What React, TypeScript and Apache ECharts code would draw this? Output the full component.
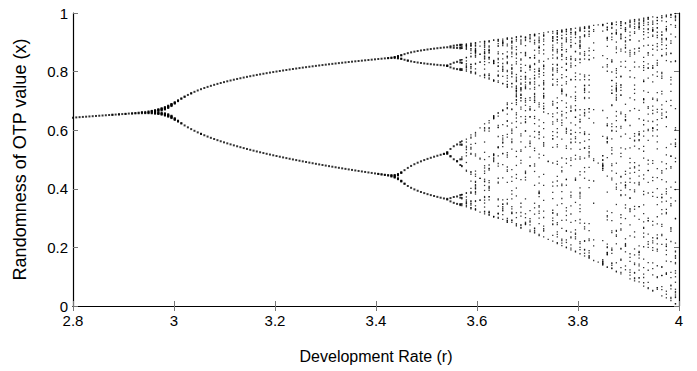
import React, { useEffect, useRef } from "react";
import * as echarts from "echarts";

// Axis ranges and tick labels
const xTicks = [2.8, 3, 3.2, 3.4, 3.6, 3.8, 4];
const yTicks = [0, 0.2, 0.4, 0.6, 0.8, 1];
const xTitle = "Development Rate (r)";
const yTitle = "Randomness of OTP value (x)";

// Sampling of the development rate r (column spacing)
const periodicStart = 2.8;
const periodicStep = 0.0065;
const chaosStart = 3.57;
const chaosStep = 0.009;
const rMax = 4;

// The plotted model: orbit of x -> r x (1 - x)
const startValue = 0.4;
const transientIterations = 50;
const plottedIterations = 50;

function orbit(r: number): number[] {
  let x = startValue;
  for (let i = 0; i < transientIterations; i++) x = r * x * (1 - x);
  const seen = new Set<number>();
  const out: number[] = [];
  for (let i = 0; i < plottedIterations; i++) {
    x = r * x * (1 - x);
    const key = Math.round(x * 600);
    if (seen.has(key)) continue;
    seen.add(key);
    out.push(x);
  }
  return out;
}

function buildPoints(from: number, to: number, step: number): [number, number][] {
  const pts: [number, number][] = [];
  for (let r = from; r < to + 1e-9; r += step) {
    for (const x of orbit(r)) pts.push([r, x]);
  }
  return pts;
}

const fmt = (v: number) => String(+(+v).toFixed(1));

export default function App() {
  const ref = useRef<HTMLDivElement>(null);
  useEffect(() => {
    document.body.style.margin = "0";
    if (!ref.current) return;
    const chart = echarts.init(ref.current, undefined, { renderer: "svg" });
    const font = "'Liberation Sans', Arial, Helvetica, sans-serif";
    const tickStyle = { show: true, inside: true, length: 5, lineStyle: { color: "#777", width: 1 } };
    const lineStyle = { show: true, lineStyle: { color: "#000", width: 1.2 } };
    chart.setOption({
      animation: false,
      backgroundColor: "#fff",
      textStyle: { fontFamily: font },
      grid: { left: 73, right: 18, top: 13, bottom: 65, containLabel: false },
      xAxis: [
        {
          type: "value",
          min: xTicks[0],
          max: xTicks[xTicks.length - 1],
          interval: 0.2,
          position: "bottom",
          axisLine: lineStyle,
          axisTick: tickStyle,
          splitLine: { show: false },
          axisLabel: { color: "#000", fontSize: 15, margin: 7, fontFamily: font, formatter: fmt },
          name: xTitle,
          nameLocation: "middle",
          nameGap: 42,
          nameTextStyle: { color: "#000", fontSize: 16, fontFamily: font },
        },
        {
          type: "value",
          min: xTicks[0],
          max: xTicks[xTicks.length - 1],
          interval: 0.2,
          position: "top",
          axisLine: lineStyle,
          axisTick: tickStyle,
          splitLine: { show: false },
          axisLabel: { show: false },
        },
      ],
      yAxis: [
        {
          type: "value",
          min: yTicks[0],
          max: yTicks[yTicks.length - 1],
          interval: 0.2,
          position: "left",
          axisLine: lineStyle,
          axisTick: tickStyle,
          splitLine: { show: false },
          axisLabel: { color: "#000", fontSize: 15, margin: 5, fontFamily: font, formatter: fmt },
          name: yTitle,
          nameLocation: "middle",
          nameGap: 44,
          nameTextStyle: { color: "#000", fontSize: 18, fontFamily: font },
        },
        {
          type: "value",
          min: yTicks[0],
          max: yTicks[yTicks.length - 1],
          interval: 0.2,
          position: "right",
          axisLine: lineStyle,
          axisTick: tickStyle,
          splitLine: { show: false },
          axisLabel: { show: false },
        },
      ],
      series: [
        {
          type: "scatter",
          xAxisIndex: 0,
          yAxisIndex: 0,
          symbol: "rect",
          symbolSize: 2,
          itemStyle: { color: "#000" },
          silent: true,
          data: buildPoints(periodicStart, chaosStart - 1e-6, periodicStep),
        },
        {
          type: "scatter",
          xAxisIndex: 0,
          yAxisIndex: 0,
          symbol: "rect",
          symbolSize: 1.3,
          itemStyle: { color: "#000" },
          silent: true,
          data: buildPoints(chaosStart, rMax, chaosStep),
        },
      ],
    });
    return () => chart.dispose();
  }, []);
  return <div ref={ref} style={{ width: 697, height: 371 }} />;
}
